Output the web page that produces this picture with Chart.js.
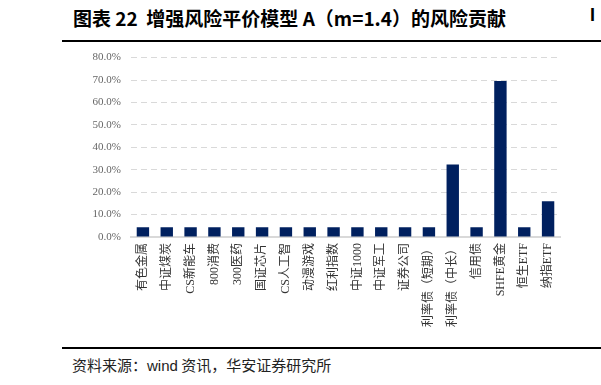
<!DOCTYPE html>
<html lang="zh-CN">
<head>
  <meta charset="UTF-8">
  <title>增强风险平价模型 A 的风险贡献</title>
  <script src="https://cdn.jsdelivr.net/npm/chart.js"></script>
  <style>
    body { margin: 0; width: 601px; height: 385px; background: #fff; position: relative; overflow: hidden; }
    .titulo { position: absolute; left: 73px; top: 4px; font: bold 19px "Noto Sans CJK SC", sans-serif; color: #000; white-space: nowrap; }
    .corte { position: absolute; left: 590px; top: 5px; font: bold 18px "Liberation Sans", sans-serif; color: #000; }
    .regua { position: absolute; left: 62px; width: 539px; height: 0; border-top: 2px solid #000; z-index: 5; }
    .fonte { position: absolute; left: 72px; top: 354px; font: 15px "Noto Sans CJK SC", serif; color: #222; white-space: nowrap; }
    .fonte span { font-family: "Liberation Sans", sans-serif; }
    #box { position: absolute; left: 0; top: 41px; width: 601px; height: 292px; }
  </style>
</head>
<body>
  <div class="titulo">图表 22&nbsp; 增强风险平价模型 A（m=1.4）的风险贡献</div>
  <div class="corte">I</div>
  <div class="regua" style="top: 40px;"></div>
  <div id="box"><canvas id="grafico"></canvas></div>
  <div class="regua" style="top: 347px;"></div>
  <div class="fonte">资料来源：<span>wind</span> 资讯，华安证券研究所</div>

  <script>
    // ativos e contribuição de risco (%)
    const ativos = ["有色金属", "中证煤炭", "CS新能车", "800消费", "300医药", "国证芯片", "CS人工智", "动漫游戏", "红利指数",
      "中证1000", "中证军工", "证券公司", "利率债（短期）", "利率债（中长）", "信用债", "SHFE黄金", "恒生ETF", "纳指ETF"];
    const contrib = [4.4, 4.4, 4.4, 4.4, 4.4, 4.4, 4.4, 4.4, 4.4, 4.4, 4.4, 4.4, 4.4, 32.3, 4.4, 69.6, 4.4, 15.9];
    const yTicks = [0, 10, 20, 30, 40, 50, 60, 70, 80];

    new Chart(document.getElementById("grafico"), {
      type: 'bar',
      data: {
        labels: ativos,
        datasets: [{
          data: contrib,
          backgroundColor: '#00205f',
          categoryPercentage: 1,
          barPercentage: 0.52
        }]
      },
      options: {
        responsive: true,
        maintainAspectRatio: false,
        animation: false,
        layout: { padding: { top: 2, right: 41, bottom: 0, left: 0 } },
        plugins: { legend: { display: false }, tooltip: { enabled: false } },
        scales: {
          x: {
            grid: { display: false, drawTicks: false },
            border: { color: '#d9d9d9', width: 2 },
            ticks: {
              color: '#333', font: { family: "'Liberation Serif', 'Noto Sans CJK SC', serif", size: 12 },
              minRotation: 90, maxRotation: 90, padding: 6, autoSkip: false
            }
          },
          y: {
            min: 0,
            max: 80,
            afterBuildTicks: s => { s.ticks = yTicks.map(v => ({ value: v })); },
            afterFit: s => { s.width = 131; },
            grid: { color: '#d9d9d9', drawTicks: false, lineWidth: 1 },
            border: { display: false, dash: [6, 4] },
            ticks: {
              color: '#666', font: { family: "'Liberation Serif', serif", size: 11 },
              padding: 10, callback: v => v.toFixed(1) + '%'
            }
          }
        }
      }
    });
  </script>
</body>
</html>
